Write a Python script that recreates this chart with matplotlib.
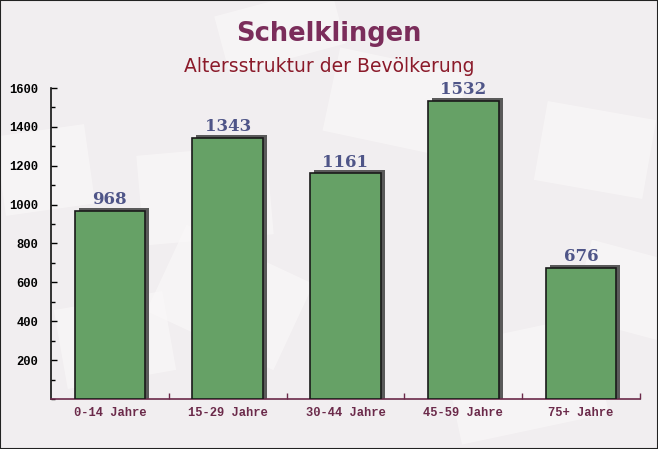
import matplotlib.pyplot as plt
from matplotlib.transforms import ScaledTranslation, Affine2D
from matplotlib.patches import Rectangle
from matplotlib.ticker import MultipleLocator, FixedLocator

# Data
categories = ['0-14 Jahre', '15-29 Jahre', '30-44 Jahre', '45-59 Jahre', '75+ Jahre']
values = [968, 1343, 1161, 1532, 676]
yticks = [200, 400, 600, 800, 1000, 1200, 1400, 1600]

fig = plt.figure(figsize=(6.58, 4.49), dpi=100)
fig.patch.set_facecolor('#f1eef0')

# background layer with faint "envelope" shapes (pixel coords, y down)
bg = fig.add_axes([0, 0, 1, 1], zorder=-1)
bg.set_xlim(0, 658)
bg.set_ylim(449, 0)
bg.axis('off')
envelopes = [(160, 250, 140, 95, 25), (330, 60, 130, 85, 12), (540, 110, 110, 80, 10),
             (0, 130, 90, 80, -8), (450, 330, 150, 100, -12), (220, 0, 120, 60, -15),
             (60, 300, 110, 80, -10), (580, 250, 90, 80, 15), (140, 150, 130, 90, -5)]
for ex, ey, ew, eh, ang in envelopes:
    r = Rectangle((ex, ey), ew, eh, facecolor='#fbf9f9', edgecolor='none', alpha=0.6)
    r.set_transform(Affine2D().rotate_deg_around(ex + ew / 2, ey + eh / 2, ang) + bg.transData)
    bg.add_patch(r)

ax = fig.add_axes([0.0775, 0.1114, 0.895, 0.6926], zorder=1)
ax.set_facecolor('none')

x = list(range(len(categories)))

# shadow behind the bars, shifted right/up a few pixels
shadow = ax.transData + ScaledTranslation(4 / 100, 3 / 100, fig.dpi_scale_trans)
ax.bar(x, [v + 40 for v in values], bottom=-40, width=0.6, color='#5a5a5a',
       transform=shadow, zorder=2)
ax.bar(x, values, width=0.6, color='#66a166', edgecolor='#1a1a1a', linewidth=1.2, zorder=3)

for xi, v in zip(x, values):
    ax.annotate(str(v), (xi, v), xytext=(0, 2), textcoords='offset points',
                ha='center', va='bottom', fontsize=12, fontweight='bold',
                family='DejaVu Serif', color='#4f5588', zorder=4)

ax.set_xlim(-0.5, 4.5)
ax.set_ylim(0, 1600)

ax.set_yticks(yticks)
ax.yaxis.set_minor_locator(MultipleLocator(100))
ax.tick_params(axis='y', which='major', direction='in', length=4, width=1, pad=9)
ax.tick_params(axis='y', which='minor', direction='in', length=3, width=1)
for lab in ax.get_yticklabels():
    lab.set_family('Liberation Mono')
    lab.set_fontweight('bold')
    lab.set_fontsize(8.7)

ax.set_xticks(x)
ax.set_xticklabels(categories)
ax.xaxis.set_minor_locator(FixedLocator([0.5, 1.5, 2.5, 3.5, 4.5]))
ax.tick_params(axis='x', which='major', length=0, pad=6, labelcolor='#6b2a4a')
ax.tick_params(axis='x', which='minor', direction='in', length=4, width=1, color='#6b2a4a')
for lab in ax.get_xticklabels():
    lab.set_family('Liberation Mono')
    lab.set_fontweight('bold')
    lab.set_fontsize(8.7)

for s in ['top', 'right']:
    ax.spines[s].set_visible(False)
ax.spines['left'].set_color('#111111')
ax.spines['bottom'].set_color('#6b2a4a')
ax.spines['left'].set_linewidth(1.2)
ax.spines['bottom'].set_linewidth(1.2)

fig.text(0.5, 0.925, 'Schelklingen', ha='center', va='center', fontsize=18.5,
         fontweight='bold', color='#7b2d5b')
fig.text(0.5, 0.851, 'Altersstruktur der Bevölkerung', ha='center', va='center',
         fontsize=13.5, color='#8b1a2a')

# thin frame around the image
fig.patches.append(Rectangle((0, 0), 1, 1, transform=fig.transFigure, fill=False,
                             edgecolor='#222222', linewidth=1.5))

fig.savefig('out.png', dpi=100, facecolor=fig.get_facecolor())
